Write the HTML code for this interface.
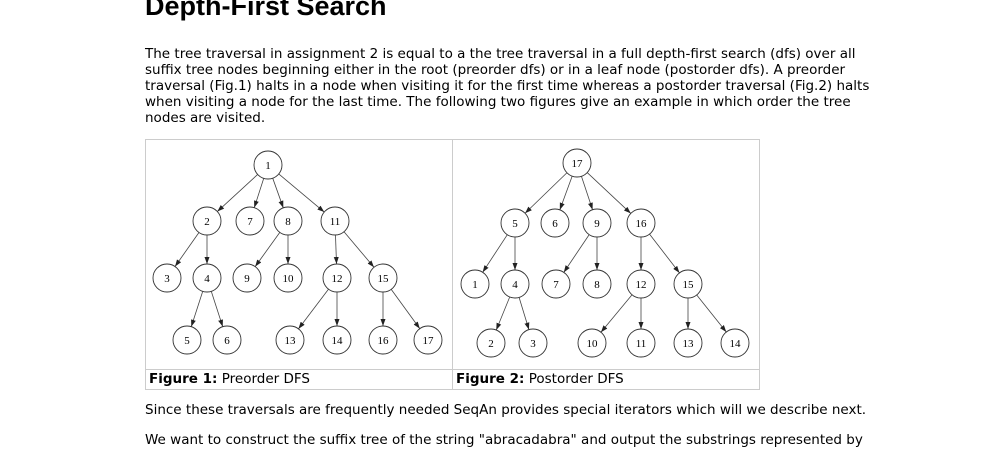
<!DOCTYPE html>
<html><head><meta charset="utf-8"><style>
body{margin:0;width:1008px;height:451px;overflow:hidden;background:#fff;font-family:"DejaVu Sans",Verdana,sans-serif;color:#000;position:relative}
h1{position:absolute;left:145px;top:-9px;margin:0;font:bold 27px "Liberation Sans",Arial,sans-serif}
.p{position:absolute;left:145px;font-size:13.5px;line-height:16px;margin:0;white-space:nowrap}
svg text{font-family:"Liberation Serif",serif;font-size:11px;text-anchor:middle}
.cap{position:absolute;top:371px;font-size:13.5px;line-height:16px}
</style></head><body>
<h1>Depth-First Search</h1>
<p class="p" style="top:46px">The tree traversal in assignment 2 is equal to a the tree traversal in a full depth-first search (dfs) over all<br>suffix tree nodes beginning either in the root (preorder dfs) or in a leaf node (postorder dfs). A preorder<br>traversal (Fig.1) halts in a node when visiting it for the first time whereas a postorder traversal (Fig.2) halts<br>when visiting a node for the last time. The following two figures give an example in which order the tree<br>nodes are visited.</p>
<svg id="s" width="1008" height="451" style="position:absolute;left:0;top:0">
<defs><marker id="a" markerUnits="userSpaceOnUse" markerWidth="8" markerHeight="8" refX="7" refY="3.5" orient="auto"><path d="M0,1L7,3.5L0,6z" fill="#222"/></marker></defs>
<rect x="145.5" y="139.5" width="614" height="250" fill="none" stroke="#ccc"/>
<line x1="452.5" y1="139" x2="452.5" y2="390" stroke="#ccc"/>
<line x1="145" y1="369.5" x2="760" y2="369.5" stroke="#ccc"/>
<g id="g"></g>
<g id="t">
<text x="268" y="169">1</text><text x="207" y="225">2</text><text x="250" y="225">7</text><text x="288" y="225">8</text><text x="335" y="225">11</text>
<text x="167" y="282">3</text><text x="207" y="282">4</text><text x="247" y="282">9</text><text x="288" y="282">10</text><text x="337" y="282">12</text><text x="383" y="282">15</text>
<text x="187" y="344">5</text><text x="227" y="344">6</text><text x="290" y="344">13</text><text x="337" y="344">14</text><text x="383" y="344">16</text><text x="428" y="344">17</text>
<text x="577" y="167">17</text><text x="515" y="227">5</text><text x="555" y="227">6</text><text x="597" y="227">9</text><text x="641" y="227">16</text>
<text x="475" y="288">1</text><text x="515" y="288">4</text><text x="556" y="288">7</text><text x="597" y="288">8</text><text x="641" y="288">12</text><text x="688" y="288">15</text>
<text x="491" y="347">2</text><text x="533" y="347">3</text><text x="592" y="347">10</text><text x="641" y="347">11</text><text x="688" y="347">13</text><text x="735" y="347">14</text>
</g>
</svg>
<div class="cap" style="left:149px"><b>Figure 1:</b> Preorder DFS</div>
<div class="cap" style="left:456px"><b>Figure 2:</b> Postorder DFS</div>
<p class="p" style="top:402px">Since these traversals are frequently needed SeqAn provides special iterators which will we describe next.</p>
<p class="p" style="top:432px">We want to construct the suffix tree of the string "abracadabra" and output the substrings represented by</p>
<script>
var T=[
{r:[268,165],c:[[[207,221],[[167,278]],[[207,278],[[187,340]],[[227,340]]]],[[250,221]],[[288,221],[[247,278]],[[288,278]]],[[335,221],[[337,278],[[290,340]],[[337,340]]],[[383,278],[[383,340]],[[428,340]]]]]},
{r:[577,163],c:[[[515,223],[[475,284]],[[515,284],[[491,343]],[[533,343]]]],[[555,223]],[[597,223],[[556,284]],[[597,284]]],[[641,223],[[641,284],[[592,343]],[[641,343]]],[[688,284],[[688,343]],[[735,343]]]]]}];
var g=document.getElementById('g'),ns='http://www.w3.org/2000/svg',R=14;
function el(n,a){var e=document.createElementNS(ns,n);for(var k in a)e.setAttribute(k,a[k]);g.appendChild(e);}
function walk(p,kids){el('circle',{cx:p[0],cy:p[1],r:R,fill:'#fff',stroke:'#333','stroke-width':0.9});
kids.forEach(function(k){var q=k[0],dx=q[0]-p[0],dy=q[1]-p[1],d=Math.hypot(dx,dy),ux=dx/d,uy=dy/d;
el('line',{x1:p[0]+ux*R,y1:p[1]+uy*R,x2:q[0]-ux*R,y2:q[1]-uy*R,stroke:'#444','stroke-width':0.8,'marker-end':'url(#a)'});
walk(q,k.slice(1));});}
T.forEach(function(t){walk(t.r,t.c);});
</script>
</body></html>
